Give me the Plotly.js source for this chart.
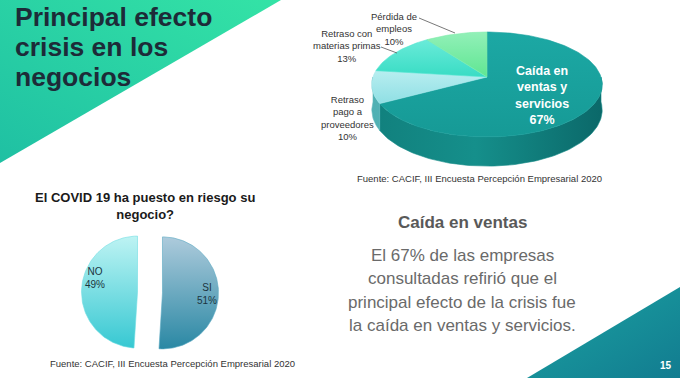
<!DOCTYPE html>
<html><head><meta charset="utf-8">
<script src="https://cdn.plot.ly/plotly-3.0.1.min.js"></script>
<style>html,body{margin:0;padding:0;background:#fff}#chart{width:680px;height:378px}</style>
</head><body><div id="chart"></div>
<script>
// ---------- DATA ----------
const effectLabels = ['Caída en<br>ventas y<br>servicios', 'Retraso<br>pago a<br>proveedores', 'Retraso con<br>materias primas', 'Pérdida de<br>empleos'];
const effectValues = [67, 10, 13, 10];
const riskLabels = ['SI', 'NO'];
const riskValues = [51, 49];
const titleLines = ['Principal efecto', 'crisis en los', 'negocios'];
const riskTitle = 'El COVID 19 ha puesto en riesgo su<br>negocio?';
const sourceText = 'Fuente: CACIF, III Encuesta Percepción Empresarial 2020';
const summaryTitle = 'Caída en ventas';
const summaryLines = ['El 67% de las empresas', 'consultadas refirió que el', 'principal efecto de la crisis fue', 'la caída en ventas y servicios.'];
const pageNumber = '15';

// ---------- STYLE / LAYOUT CONSTANTS ----------
const FONT = 'Liberation Sans, Arial, sans-serif';
const deg = Math.PI / 180;
const P3 = {cx: 487, cy: 77, A: 114, B: 51.4, k: 0.143, D: 25};
const effectTopStyle = [
  {color: '#19a19d', grad: ['#1ca8a4', '#169a96']},
  {color: '#a6e9ec', grad: ['#b8eef0', '#8fdfe4']},
  {color: '#55e5d2', grad: ['#6aebd9', '#38dcc4']},
  {color: '#7debaa', grad: ['#92f0b8', '#5fe692']}
];
const effectSideStyle = [
  {color: '#138a87', hgrad: ['#11807d', '#158f8b', '#0b6869']},
  {color: '#5fb9bd', hgrad: ['#4fb0b3', '#66c0c4', '#66c0c4']},
  {color: '#3cc7b5', hgrad: ['#3cc7b5', '#3cc7b5', '#3cc7b5']},
  {color: '#5fcf8f', hgrad: ['#5fcf8f', '#5fcf8f', '#5fcf8f']}
];
const effectLabelPos = [[542, 95, 'white', 12.5, true], [347, 117.5, '#333', 9.5, false], [347, 46, '#333', 9.5, false], [394, 29, '#333', 9.5, false]];
const SP = {cx: 150, cy: 292.5, R: 56, pull: 12.5, labelR: 0.8};
const riskStyle = [
  {color: '#5aaac2', grad: ['#aecbdc', '#2a88a4']},
  {color: '#70dde2', grad: ['#bdf3f3', '#36c8d2']}
];
const riskLabelTweak = [0, 17];

function proj(theta, z, r) {
  r = (r === undefined) ? 1 : r;
  const u = r * Math.sin(theta), v = r * Math.cos(theta), w = 1 + P3.k * v;
  return [P3.cx + P3.A * u / w, P3.cy - P3.B * v / w + z * P3.D / w];
}
function arc(a0, a1, fn) {
  const n = Math.max(2, Math.ceil((a1 - a0) / (1.5 * deg)));
  const pts = [];
  for (let i = 0; i <= n; i++) pts.push(fn(a0 + (a1 - a0) * i / n));
  return pts;
}
function poly(pts, color, grad) {
  const t = {type: 'scatter', mode: 'lines', x: pts.map(p => p[0]), y: pts.map(p => p[1]),
    fill: 'toself', fillcolor: color, line: {color: color, width: 0.6}, hoverinfo: 'skip', showlegend: false};
  if (grad) t.fillgradient = grad;
  return t;
}

const traces = [];
// ---- 3D pie ----
const tot1 = effectValues.reduce((a, b) => a + b, 0);
const sides = [], tops = [], labelsAnn = [];
let acc = 0;
effectValues.forEach((v, i) => {
  const a0 = acc / tot1 * 2 * Math.PI; acc += v; const a1 = acc / tot1 * 2 * Math.PI;
  const c = proj(0, 0, 0);
  const topPts = [c].concat(arc(a0, a1, t => proj(t, 0))).concat([c]);
  const ys = topPts.map(p => p[1]);
  tops.push(poly(topPts, effectTopStyle[i].color,
    {type: 'vertical', start: Math.min(...ys), stop: Math.max(...ys),
     colorscale: [[0, effectTopStyle[i].grad[0]], [1, effectTopStyle[i].grad[1]]]}));
  const s0 = Math.max(a0, Math.PI / 2), s1 = Math.min(a1, 1.5 * Math.PI);
  if (s1 > s0) {
    const upper = arc(s0, s1, t => proj(t, 0));
    const lower = arc(s0, s1, t => proj(t, 1)).reverse();
    const pts = upper.concat(lower).concat([upper[0]]);
    const hg = effectSideStyle[i].hgrad;
    sides.push(poly(pts, effectSideStyle[i].color,
      {type: 'horizontal', start: P3.cx - 116, stop: P3.cx + 116,
       colorscale: [[0, hg[0]], [0.45, hg[1]], [1, hg[2]]]}));
  }
  const lp = effectLabelPos[i];
  labelsAnn.push({x: lp[0], y: lp[1], xref: 'x', yref: 'y', showarrow: false, align: 'center',
    text: (lp[4] ? '<b>' : '') + effectLabels[i] + '<br>' + Math.round(v / tot1 * 100) + '%' + (lp[4] ? '</b>' : ''),
    font: {family: FONT, size: lp[3], color: lp[2]}});
});
traces.push(...sides, ...tops);

// ---- exploded 2D pie ----
const tot2 = riskValues.reduce((a, b) => a + b, 0);
let acc2 = 0;
riskValues.forEach((v, i) => {
  const a0 = acc2 / tot2 * 2 * Math.PI; acc2 += v; const a1 = acc2 / tot2 * 2 * Math.PI;
  const b = (a0 + a1) / 2;
  const ox = SP.cx + SP.pull * Math.sin(b), oy = SP.cy - SP.pull * Math.cos(b);
  const pts = [[ox, oy]].concat(arc(a0, a1, t => [ox + SP.R * Math.sin(t), oy - SP.R * Math.cos(t)])).concat([[ox, oy]]);
  traces.push(poly(pts, riskStyle[i].color,
    {type: 'vertical', start: SP.cy - SP.R, stop: SP.cy + SP.R,
     colorscale: [[0, riskStyle[i].grad[0]], [1, riskStyle[i].grad[1]]]}));
  const lb = b + riskLabelTweak[i] * deg, lr = SP.R * SP.labelR;
  labelsAnn.push({x: ox + lr * Math.sin(lb), y: oy - lr * Math.cos(lb), xref: 'x', yref: 'y', showarrow: false,
    text: riskLabels[i] + '<br>' + Math.round(v / tot2 * 100) + '%', align: 'center',
    font: {family: FONT, size: 10, color: '#1c3440'}});
});

// ---------- background decorations ----------
const svg = "<svg xmlns='http://www.w3.org/2000/svg' width='680' height='378' viewBox='0 0 680 378'>" +
  "<defs><linearGradient id='g1' x1='0' y1='1' x2='1' y2='0'><stop offset='0' stop-color='#1fc0a3'/><stop offset='1' stop-color='#34e3a6'/></linearGradient>" +
  "<linearGradient id='g2' x1='0' y1='0' x2='1' y2='1'><stop offset='0' stop-color='#1ba3a2'/><stop offset='1' stop-color='#127c90'/></linearGradient></defs>" +
  "<polygon points='0,0 281,0 0,163' fill='url(#g1)'/>" +
  "<polygon points='680,287 680,378 527,378' fill='url(#g2)'/></svg>";
const bgURI = 'data:image/svg+xml;charset=utf-8,' + encodeURIComponent(svg);

const ann = [];
const titleY = [17, 47, 77];
titleLines.forEach((t, i) => ann.push({x: 13, y: titleY[i], xref: 'x', yref: 'y', xanchor: 'left', showarrow: false,
  text: '<b>' + t + '</b>', font: {family: FONT, size: 26.5, color: '#1d2b38'}}));
ann.push({x: 479, y: 178, xref: 'x', yref: 'y', showarrow: false, text: sourceText, font: {family: FONT, size: 9.5, color: '#333'}});
ann.push({x: 172.5, y: 363, xref: 'x', yref: 'y', showarrow: false, text: sourceText, font: {family: FONT, size: 9.5, color: '#333'}});
ann.push({x: 145, y: 205.5, xref: 'x', yref: 'y', showarrow: false, text: '<b>' + riskTitle + '</b>', font: {family: FONT, size: 13, color: '#1a1a1a'}});
ann.push({x: 462, y: 222, xref: 'x', yref: 'y', showarrow: false, text: '<b>' + summaryTitle + '</b>', font: {family: FONT, size: 17, color: '#595959'}});
const sumY = [255, 278.5, 302, 325.5];
summaryLines.forEach((t, i) => ann.push({x: 462, y: sumY[i], xref: 'x', yref: 'y', showarrow: false, text: t,
  font: {family: FONT, size: 17, color: '#6a6a6a'}}));
ann.push({x: 666, y: 365, xref: 'x', yref: 'y', showarrow: false, text: '<b>' + pageNumber + '</b>', font: {family: FONT, size: 10, color: '#ffffff'}});

const layout = {
  width: 680, height: 378, margin: {l: 0, r: 0, t: 0, b: 0, pad: 0},
  paper_bgcolor: '#ffffff', plot_bgcolor: 'rgba(0,0,0,0)', showlegend: false,
  xaxis: {range: [0, 680], visible: false, fixedrange: true},
  yaxis: {range: [378, 0], visible: false, fixedrange: true},
  images: [{source: bgURI, xref: 'paper', yref: 'paper', x: 0, y: 1, sizex: 1, sizey: 1, sizing: 'stretch',
    xanchor: 'left', yanchor: 'top', layer: 'below'}],
  shapes: [
    {type: 'line', xref: 'x', yref: 'y', x0: 419, y0: 18, x1: 455, y1: 33, line: {color: '#555', width: 0.8}},
    {type: 'line', xref: 'x', yref: 'y', x0: 381, y0: 47, x1: 397, y1: 53, line: {color: '#555', width: 0.8}}
  ],
  annotations: ann.concat(labelsAnn)
};
Plotly.newPlot('chart', traces, layout, {staticPlot: true, displayModeBar: false});
</script>
</body></html>
